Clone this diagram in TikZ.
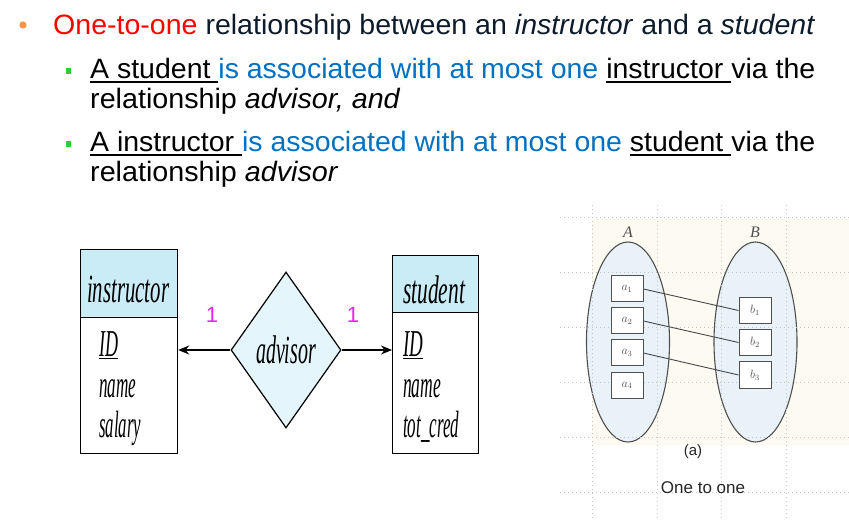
\documentclass[tikz,border=0pt]{standalone}
\usepackage{fontspec}
\setmainfont{Liberation Sans}
\newfontfamily\erfont{Liberation Serif}
\usetikzlibrary{shapes.geometric,arrows.meta}

\definecolor{navytext}{HTML}{0D1B2A}
\definecolor{linkblue}{HTML}{0070C0}
\definecolor{bulletorange}{HTML}{F79646}
\definecolor{bulletgreen}{HTML}{33CC33}
\definecolor{headfill}{HTML}{C9ECF7}
\definecolor{relfill}{HTML}{E4F5FB}
\definecolor{cardmagenta}{HTML}{EE22EE}
\definecolor{setfill}{HTML}{E9F1F9}
\definecolor{panelcream}{HTML}{FDFAF2}
\definecolor{gridgray}{HTML}{C4C4C4}
\definecolor{figgray}{HTML}{505050}

% underline with a fixed rule, the trailing space included
\newcommand\ulrule[1]{\leavevmode\setbox0\hbox{#1}\rlap{\rule[-3.6pt]{\wd0}{1.4pt}}\box0}
% condensed italic serif for the E-R labels
\newcommand\ertext[2]{\resizebox{#1pt}{\height}{\fontsize{38}{40}\erfont\itshape #2}}
% slightly widened body text
\newcommand\widen[1]{\scalebox{1.025}[1]{#1}}

\tikzset{
  bodytext/.style={anchor=base west, inner sep=0pt, font=\fontsize{28}{32}\selectfont},
  entityhead/.style={draw, line width=1.2pt, fill=headfill, anchor=north west, inner sep=0pt},
  entitybody/.style={draw, line width=1.2pt, fill=white, anchor=north west, inner sep=0pt},
  attrib/.style={anchor=base west, inner sep=0pt},
  relation/.style={diamond, draw, line width=1.2pt, fill=relfill, inner sep=0pt,
    minimum width=110pt, minimum height=156pt},
  card/.style={text=cardmagenta, font=\fontsize{22}{24}\selectfont, inner sep=0pt},
  onearrow/.style={line width=1.6pt, -{Stealth[length=11pt,width=9pt]}},
  entityset/.style={ellipse, draw=figgray, line width=1.1pt, fill=setfill,
    minimum width=83pt, minimum height=200pt, inner sep=0pt},
  element/.style={rectangle, draw=figgray, line width=1pt, fill=white,
    minimum width=32pt, minimum height=26pt, inner sep=0pt,
    font=\fontsize{12}{13}\selectfont\color{figgray}},
  setlabel/.style={inner sep=0pt, text=figgray, font=\fontsize{16}{18}\selectfont\erfont\itshape},
  pairing/.style={draw=figgray!90!black, line width=0.9pt},
  gridline/.style={draw=gridgray, line width=0.8pt, dash pattern=on 1pt off 3pt},
  caption/.style={inner sep=0pt, text=black!85}
}

\begin{document}
\begin{tikzpicture}[x=1pt,y=-1pt]
\useasboundingbox[fill=white] (0,0) rectangle (849,521);

% ---------- bullet text ----------
\fill[bulletorange] (23,25) circle (3.6pt);
\node[bodytext] (line1) at (53,35) {\resizebox{762pt}{\height}{\textcolor{red}{One-to-one} \textcolor{navytext}{relationship between an \textit{instructor} and a \textit{student}}}};

\fill[bulletgreen] (65.5,68.5) rectangle (71,74);
\node[bodytext] (line2) at (90,79) {\resizebox{725pt}{\height}{\ulrule{A student }\textcolor{linkblue}{is associated with at most one }\ulrule{instructor }via the}};
\node[bodytext] (line3) at (90,109) {\widen{relationship \textit{advisor, and}}};

\fill[bulletgreen] (65.5,141.5) rectangle (71,147);
\node[bodytext] (line4) at (90,152) {\resizebox{725pt}{\height}{\ulrule{A instructor }\textcolor{linkblue}{is associated with at most one }\ulrule{student }via the}};
\node[bodytext] (line5) at (90,182) {\widen{relationship \textit{advisor}}};

% ---------- E-R diagram ----------
\node[entityhead, minimum width=97pt, minimum height=68pt] (insthead) at (80,249) {};
\node[entitybody, minimum width=97pt, minimum height=136pt] (instbody) at (80,317) {};
\node[attrib] (instname) at (87,303) {\resizebox{82pt}{\height}{\fontsize{40}{42}\erfont\itshape instructor}};
\node[attrib] (instid) at (99,357) {\ertext{19}{\underline{ID}}};
\node[attrib] (instnm) at (99,397) {\ertext{37}{name}};
\node[attrib] (instsal) at (99,437) {\ertext{42}{salary}};

\node[entityhead, minimum width=86pt, minimum height=57pt] (studhead) at (392,255) {};
\node[entitybody, minimum width=86pt, minimum height=141pt] (studbody) at (392,312) {};
\node[attrib] (studname) at (403,304) {\resizebox{62pt}{\height}{\fontsize{40}{42}\erfont\itshape student}};
\node[attrib] (studid) at (403,357) {\ertext{20}{\underline{ID}}};
\node[attrib] (studnm) at (403,397) {\ertext{38}{name}};
\node[attrib] (studcred) at (403,437) {\ertext{56}{tot\_cred}};

\node[relation] (advisor) at (286,350) {\resizebox{60pt}{\height}{\fontsize{40}{42}\erfont\itshape advisor}};

\draw[onearrow] (advisor.west) -- (advisor.west -| instbody.east);
\draw[onearrow] (advisor.east) -- (advisor.east -| studbody.west);

\node[card] (cardleft) at (212,315) {1};
\node[card] (cardright) at (353,315) {1};

% ---------- mapping figure ----------
\fill[panelcream] (592,219) rectangle (849,445);

\node[entityset] (setA) at (628,342) {};
\node[entityset] (setB) at (755.5,342) {};
\node[setlabel] (labA) at (628,232) {A};
\node[setlabel] (labB) at (755,232) {B};

\foreach \gy in {217,272,327,382,437,492}
  \draw[gridline] (560,\gy) -- (849,\gy);
\foreach \gx in {592,657,721,786}
  \draw[gridline] (\gx,205) -- (\gx,521);

\node[element] (a1) at (627,289)   {$a_1$};
\node[element] (a2) at (627,321)   {$a_2$};
\node[element] (a3) at (627,353)   {$a_3$};
\node[element] (a4) at (627,385.5) {$a_4$};
\node[element] (b1) at (755,310.5) {$b_1$};
\node[element] (b2) at (755,342.5) {$b_2$};
\node[element] (b3) at (755,375)   {$b_3$};

\draw[pairing] (a1.east) -- (b1.west);
\draw[pairing] (a2.east) -- (b2.west);
\draw[pairing] (a3.east) -- (b3.west);

\node[caption, font=\fontsize{15}{17}\selectfont] (sub) at (693,452) {(a)};
\node[caption, font=\fontsize{17}{19}\selectfont] (kind) at (703,488) {One to one};
\end{tikzpicture}
\end{document}
